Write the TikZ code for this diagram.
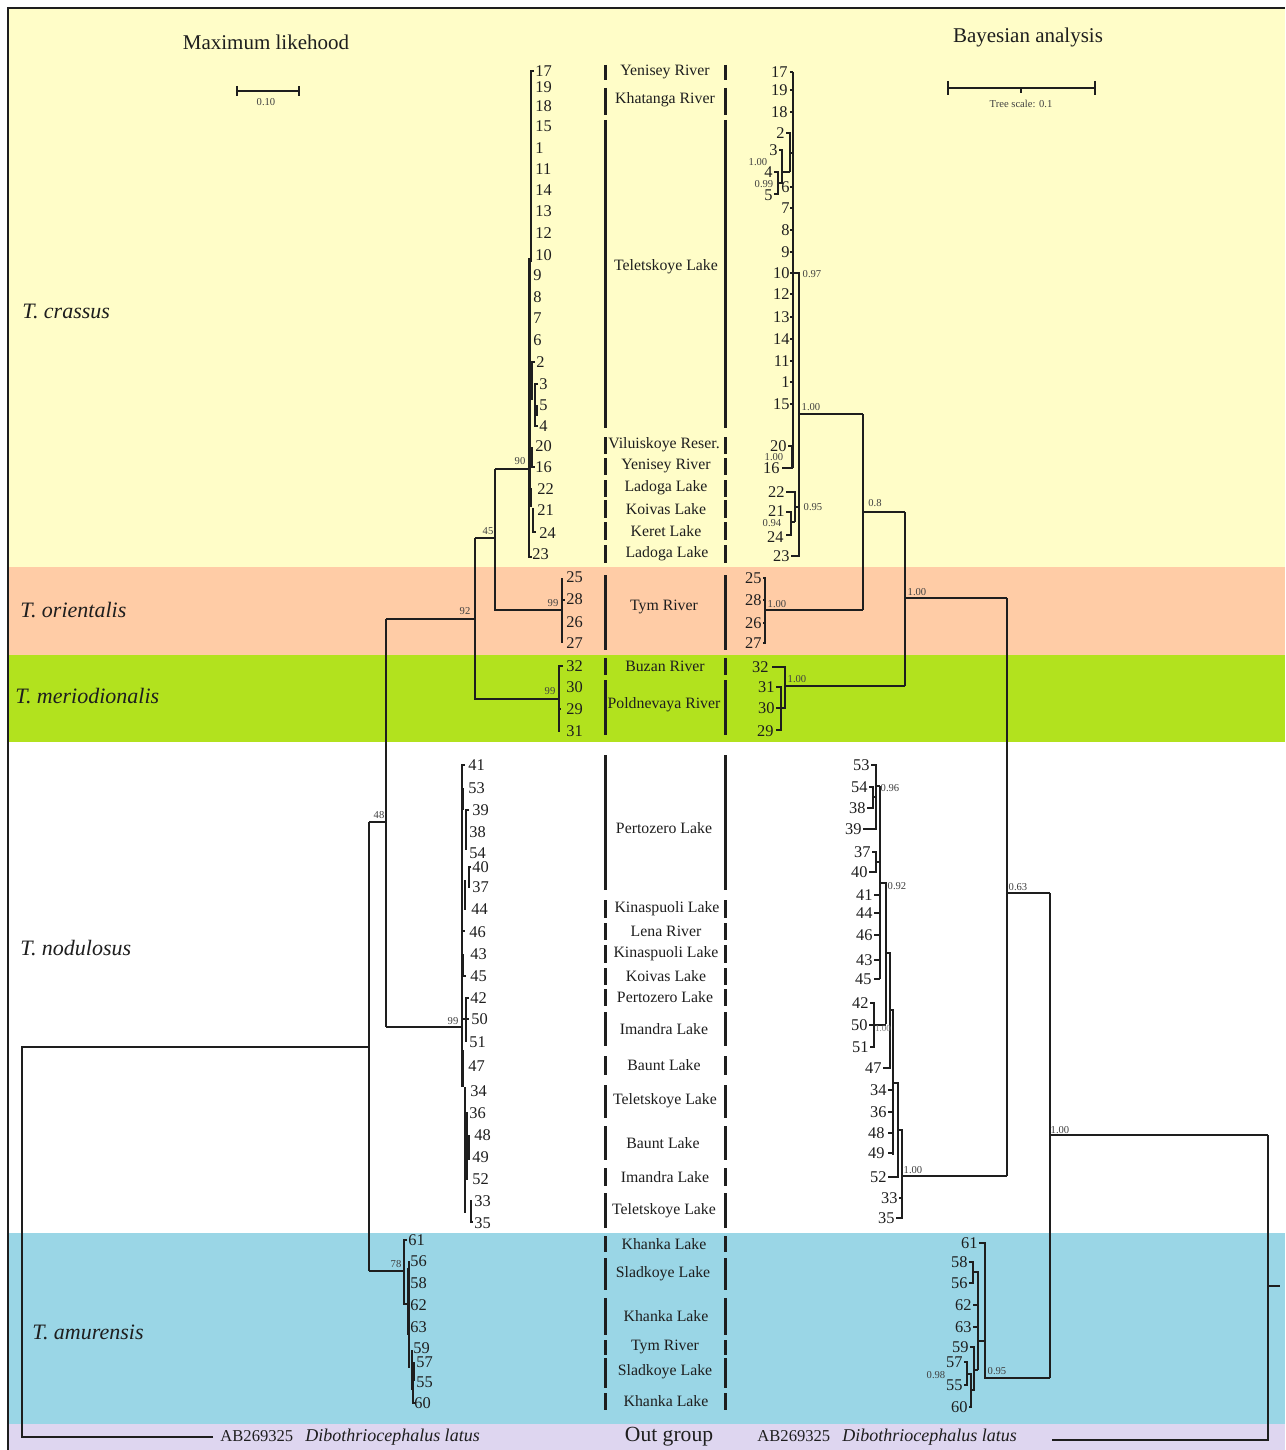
\documentclass[tikz,border=0pt]{standalone}
\usepackage{fontspec}
\setmainfont{Liberation Serif}
\definecolor{cyel}{RGB}{255,253,200}
\definecolor{cora}{RGB}{255,204,166}
\definecolor{cgrn}{RGB}{178,226,30}
\definecolor{cblu}{RGB}{154,214,230}
\definecolor{clav}{RGB}{222,214,240}
\definecolor{ink}{RGB}{30,30,30}
\newcommand\MLf[3]{\node[mll] (m#1) at (#2,#3) {#1};}
\newcommand\BAf[3]{\node[bal] (b#1) at (#2,#3) {#1};}
\begin{document}
\begin{tikzpicture}[x=0.5pt,y=-0.5pt,
 tl/.style={line width=0.65pt, draw=ink},
 tk/.style={line width=1.4pt, draw=ink},
 lbar/.style={line width=1.5pt, draw=ink},
 mll/.style={anchor=west, inner sep=0pt, text=ink, font=\normalfont\fontsize{8.2}{9}\selectfont},
 bal/.style={anchor=east, inner sep=0pt, text=ink, font=\normalfont\fontsize{8.2}{9}\selectfont},
 supp/.style={inner sep=0pt, font=\normalfont\fontsize{5.3}{6}\selectfont, text=black!75},
 locl/.style={inner sep=0pt, text=ink, font=\normalfont\fontsize{7.9}{9}\selectfont},
 spec/.style={anchor=west, inner sep=0pt, text=ink, font=\normalfont\fontsize{11}{12}\selectfont\itshape},
 ttl/.style={inner sep=0pt, text=ink, font=\normalfont\fontsize{10.5}{12}\selectfont}]
\useasboundingbox (0,0) rectangle (1285,1450);
% ---------- background bands
\fill[white] (0,0) rectangle (1285,1450);
\fill[cyel] (8,8) rectangle (1285,567);
\fill[cora] (8,567) rectangle (1285,655);
\fill[cgrn] (8,655) rectangle (1285,742);
\fill[white] (8,742) rectangle (1285,1233);
\fill[cblu] (8,1233) rectangle (1285,1424);
\fill[clav] (8,1424) rectangle (1285,1450);
\draw[line width=0.8pt, draw=ink] (8,1450)--(8,8)--(1285,8);
% ---------- titles and scale bars
\node[ttl] (tml) at (266,42) {Maximum likehood};
\node[ttl] (tba) at (1028,37) {Bayesian analysis};
\draw[tl] (237,91)--(299,91) (237,86)--(237,96) (299,86)--(299,96);
\node[supp] (sml) at (266,102) {0.10};
\draw[tl] (948,88)--(1095,88) (948,81)--(948,95) (1095,81)--(1095,95) (1021,88)--(1021,93);
\node[supp] (sba) at (1021,104) {Tree scale: 0.1};
% ---------- species
\node[spec] (sp1) at (22,311) {T. crassus};
\node[spec] (sp2) at (20,610) {T. orientalis};
\node[spec] (sp3) at (15,696) {T. meriodionalis};
\node[spec] (sp4) at (20,948) {T. nodulosus};
\node[spec] (sp5) at (32,1332) {T. amurensis};
% ---------- locations
\foreach \a/\b in {65/80, 88/115, 120/428, 437/454, 458/475, 480/497, 500/518, 522/540, 545/563, 575/650, 658/675, 680/735, 755/890, 900/918, 923/940, 945/963, 968/985, 989/1006, 1012/1046, 1056/1075, 1085/1118, 1126/1160, 1168/1186, 1193/1228, 1236/1252, 1258/1290, 1298/1335, 1340/1355, 1358/1388, 1393/1410}
  {\draw[lbar] (605,\a)--(605,\b) (725,\a)--(725,\b);}
\foreach \x/\y/\t [count=\i] in {665/72/Yenisey River, 665/100/Khatanga River, 666/267/Teletskoye Lake, 664/445/Viluiskoye Reser., 666/466/Yenisey River, 666/488/Ladoga Lake, 666/509/Koivas Lake, 666/531/Keret Lake, 667/554/Ladoga Lake, 664/607/Tym River, 665/666/Buzan River, 664/705/Poldnevaya River, 664/828/Pertozero Lake, 667/909/Kinaspuoli Lake, 666/931/Lena River, 666/954/Kinaspuoli Lake, 666/976/Koivas Lake, 665/997/Pertozero Lake, 664/1029/Imandra Lake, 664/1065/Baunt Lake, 665/1101/Teletskoye Lake, 663/1143/Baunt Lake, 665/1177/Imandra Lake, 664/1211/Teletskoye Lake, 664/1244/Khanka Lake, 663/1274/Sladkoye Lake, 666/1316/Khanka Lake, 665/1347/Tym River, 665/1372/Sladkoye Lake, 666/1401/Khanka Lake}
  {\node[locl] (loc\i) at (\x,\y) {\t};}
\node[inner sep=0pt, text=ink, font=\normalfont\fontsize{10.8}{12}\selectfont] (og) at (669,1437) {Out group};
% ---------- out group labels
\node[anchor=west, inner sep=0pt, text=ink, font=\normalfont\fontsize{8.3}{9}\selectfont] (oml) at (220,1437) {AB269325\hspace{6pt}\fontsize{9}{10}\selectfont\itshape Dibothriocephalus latus};
\node[anchor=west, inner sep=0pt, text=ink, font=\normalfont\fontsize{8.3}{9}\selectfont] (oba) at (757,1437) {AB269325\hspace{6pt}\fontsize{9}{10}\selectfont\itshape Dibothriocephalus latus};
% ================= ML tree
\draw[tl] (213,1437)--(22,1437)--(22,1047)--(369,1047);
\draw[tl] (369,822)--(369,1271);
\draw[tl] (369,822)--(386,822);
\node[supp] (s48) at (379,815) {48};
\draw[tl] (386,619)--(386,1027);
\draw[tl] (386,619)--(475,619);
\node[supp] (s92) at (465,611) {92};
\draw[tl] (386,1027)--(462,1027);
\node[supp] (s99c) at (453,1021) {99};
\draw[tl] (475,538)--(475,699)--(559,699);
\node[supp] (s99b) at (550,691) {99};
\draw[tl] (475,538)--(495,538);
\node[supp] (s45) at (488,531) {45};
\draw[tl] (495,469)--(495,610)--(562,610);
\node[supp] (s99a) at (553,603) {99};
\draw[tl] (495,469)--(529,469);
\node[supp] (s90) at (520,461) {90};
% crassus ML
\draw[tl] (534,71)--(531,71)--(531,262);
\draw[tl] (529,258)--(529,557)--(532,557);
\draw[tk] (530,262)--(530,505);
\draw[tl] (535,362)--(532,362)--(532,400);
\draw[tl] (538,384)--(535,384)--(535,426)--(538,426);
\draw[tl] (537,405)--(537,416);
\draw[tl] (532,447)--(532,467)--(535,467);
\draw[tk] (531,488)--(531,507);
\draw[tl] (533,508)--(533,532)--(536,532);
\foreach \n/\x/\y in {17/535/71, 19/535/87, 18/535/106, 15/535/126, 1/535/148, 11/535/169, 14/535/190, 13/535/211, 12/535/233, 10/535/255, 9/533/275, 8/533/297, 7/533/318, 6/533/340, 2/536/362, 3/539/384, 5/539/405, 4/539/426, 20/535/446, 16/535/467, 22/537/489, 21/537/510, 24/539/533, 23/532/554}
  {\MLf{\n}{\x}{\y}}
% orientalis ML
\draw[tl] (562,578)--(562,643);
\draw[tl] (562,600)--(565,600);
\foreach \n/\y in {25/577, 28/599, 26/622, 27/643} {\MLf{\n}{566}{\y}}
% meriodionalis ML
\draw[tl] (563,666)--(559,666)--(559,732);
\draw[tl] (559,709)--(561,709);
\foreach \n/\y in {32/666, 30/687, 29/709, 31/731} {\MLf{\n}{566}{\y}}
% nodulosus ML
\draw[tl] (465,765)--(462,765)--(462,1087);
\draw[tk] (463,788)--(463,810);
\draw[tl] (469,810)--(466,810)--(466,850);
\draw[tl] (471,867)--(469,867)--(469,888);
\draw[tk] (465,880)--(465,910);
\draw[tl] (462,931)--(465,931);
\draw[tl] (463,954)--(463,976)--(466,976);
\draw[tl] (469,998)--(466,998)--(466,1042);
\draw[tl] (462,1019)--(469,1019);
\draw[tk] (463,1050)--(463,1087);
\draw[tl] (465,1087)--(465,1213);
\draw[tk] (467,1112)--(467,1180);
\draw[tl] (469,1135)--(469,1160);
\draw[tl] (471,1200)--(471,1222)--(473,1222);
\foreach \n/\x/\y in {41/468/765, 53/468/788, 39/472/810, 38/469/832, 54/469/853, 40/472/867, 37/472/887, 44/471/909, 46/469/932, 43/470/954, 45/470/976, 42/470/998, 50/471/1019, 51/469/1042, 47/468/1066, 34/470/1091, 36/469/1113, 48/474/1135, 49/472/1157, 52/472/1179, 33/474/1201, 35/474/1223}
  {\MLf{\n}{\x}{\y}}
% amurensis ML
\draw[tl] (369,1271)--(404,1271);
\node[supp] (s78) at (396,1264) {78};
\draw[tl] (407,1240)--(404,1240)--(404,1304)--(409,1304);
\draw[tl] (409,1261)--(409,1368);
\draw[tk] (408,1268)--(408,1335);
\draw[tl] (412,1350)--(412,1390);
\draw[tl] (414,1362)--(414,1381);
\draw[tl] (413,1375)--(413,1403)--(415,1403);
\foreach \n/\x/\y in {61/408/1240, 56/410/1261, 58/410/1283, 62/410/1305, 63/410/1327, 59/413/1348, 57/416/1362, 55/416/1382, 60/414/1403}
  {\MLf{\n}{\x}{\y}}
% ================= Bayesian tree
% crassus
\draw[tl] (793,72)--(793,468);
\foreach \y in {72,90,112,187,208,230,252,273,294,317,339,361,382,404}
  {\draw[tl] (790,\y)--(793,\y);}
\draw[tl] (786,133)--(790,133)--(790,172);
\draw[tl] (790,153)--(793,153);
\draw[tl] (779,150)--(782,150)--(782,183)--(778,183);
\draw[tl] (782,172)--(790,172);
\draw[tl] (774,172)--(778,172)--(778,194)--(774,194);
\draw[tl] (793,273)--(799,273)--(799,556)--(791,556);
\draw[tl] (788,446)--(792,446)--(792,468)--(782,468);
\draw[tl] (786,492)--(795,492)--(795,522);
\draw[tl] (795,507)--(799,507);
\draw[tl] (786,512)--(791,512)--(791,535)--(786,535);
\draw[tl] (791,522)--(795,522);
\draw[tl] (799,414)--(863,414);
\foreach \n/\x/\y in {17/788/72, 19/788/90, 18/788/112, 2/785/133, 3/778/150, 4/773/172, 6/790/187, 5/773/195, 7/790/208, 8/790/230, 9/790/252, 10/790/273, 12/790/294, 13/790/317, 14/790/339, 11/790/361, 1/790/382, 15/790/404, 20/787/446, 16/780/468, 22/785/492, 21/785/511, 24/784/537, 23/790/556}
  {\BAf{\n}{\x}{\y}}
\node[supp] (p1) at (758,162) {1.00};
\node[supp] (p2) at (764,184) {0.99};
\node[supp] (p3) at (812,274) {0.97};
\node[supp] (p4) at (774,457) {1.00};
\node[supp] (p5) at (813,507) {0.95};
\node[supp] (p6) at (772,523) {0.94};
\node[supp] (p7) at (811,407) {1.00};
% orientalis
\draw[tl] (763,578)--(765,578)--(765,643)--(763,643);
\draw[tl] (763,600)--(765,600) (763,623)--(765,623);
\draw[tl] (765,610)--(863,610);
\foreach \n/\y in {25/578, 28/600, 26/623, 27/643} {\BAf{\n}{762}{\y}}
\node[supp] (p8) at (777,604) {1.00};
\draw[tl] (863,414)--(863,610);
\draw[tl] (863,512)--(905,512);
\node[supp] (p9) at (875,503) {0.8};
% meriodionalis
\draw[tl] (772,667)--(785,667)--(785,708)--(781,708);
\draw[tl] (776,687)--(781,687)--(781,730)--(776,730);
\draw[tl] (776,708)--(781,708);
\draw[tl] (785,686)--(905,686);
\foreach \n/\x/\y in {32/769/667, 31/775/687, 30/775/708, 29/774/731} {\BAf{\n}{\x}{\y}}
\node[supp] (p10) at (797,679) {1.00};
\draw[tl] (905,512)--(905,686);
\draw[tl] (905,598)--(1007,598);
\node[supp] (p11) at (917,592) {1.00};
\draw[tl] (1007,598)--(1007,1176);
\draw[tl] (1007,893)--(1050,893);
\node[supp] (p12) at (1018,887) {0.63};
% nodulosus
\draw[tl] (871,765)--(876,765)--(876,829)--(863,829);
\draw[tl] (869,787)--(873,787)--(873,808)--(867,808);
\draw[tl] (873,797)--(876,797);
\draw[tl] (876,786)--(880,786);
\draw[tl] (872,852)--(876,852)--(876,872)--(869,872);
\draw[tl] (876,862)--(880,862);
\draw[tl] (880,786)--(880,979);
\foreach \y in {895,913,935,960,979} {\draw[tl] (874,\y)--(880,\y);}
\draw[tl] (880,883)--(886,883)--(886,1024);
\draw[tl] (870,1003)--(874,1003)--(874,1047)--(870,1047);
\draw[tl] (869,1025)--(886,1025);
\draw[tl] (886,953)--(890,953)--(890,1068)--(883,1068);
\draw[tl] (890,1010)--(893,1010)--(893,1155);
\foreach \y in {1090,1112,1133,1153} {\draw[tl] (888,\y)--(893,\y);}
\draw[tl] (893,1083)--(898,1083)--(898,1177)--(888,1177);
\draw[tl] (898,1130)--(902,1130)--(902,1218)--(896,1218);
\draw[tl] (899,1198)--(902,1198);
\draw[tl] (902,1176)--(1007,1176);
\foreach \n/\x/\y in {53/870/765, 54/868/787, 38/866/808, 39/862/829, 37/871/852, 40/868/872, 41/873/895, 44/873/913, 46/873/935, 43/873/960, 45/872/979, 42/869/1003, 50/868/1025, 51/869/1047, 47/882/1068, 34/887/1090, 36/887/1112, 48/885/1133, 49/885/1153, 52/887/1177, 33/898/1198, 35/895/1218}
  {\BAf{\n}{\x}{\y}}
\node[supp] (p13) at (890,788) {0.96};
\node[supp] (p14) at (897,886) {0.92};
\node[supp,text=black!55,font=\normalfont\fontsize{4.5}{5}\selectfont] (p15) at (883,1029) {1.00};
\node[supp] (p16) at (913,1170) {1.00};
% amurensis
\draw[tl] (979,1243)--(985,1243)--(985,1378)--(1050,1378);
\draw[tl] (969,1262)--(973,1262)--(973,1283)--(969,1283);
\draw[tl] (973,1272)--(978,1272)--(978,1370);
\draw[tl] (973,1305)--(978,1305) (973,1327)--(978,1327);
\draw[tl] (978,1341)--(985,1341);
\draw[tl] (970,1347)--(974,1347)--(974,1390)--(970,1390);
\draw[tl] (974,1370)--(978,1370);
\draw[tl] (964,1362)--(967,1362)--(967,1385)--(964,1385);
\draw[tl] (967,1374)--(971,1374)--(971,1407)--(969,1407);
\foreach \n/\x/\y in {61/978/1243, 58/968/1262, 56/968/1283, 62/972/1305, 63/972/1327, 59/969/1347, 57/963/1362, 55/963/1385, 60/968/1407}
  {\BAf{\n}{\x}{\y}}
\node[supp] (p17) at (997,1371) {0.95};
\node[supp] (p18) at (936,1375) {0.98};
% root
\draw[tl] (1050,893)--(1050,1378);
\draw[tl] (1050,1135)--(1268,1135);
\node[supp] (p19) at (1060,1130) {1.00};
\draw[tl] (1268,1135)--(1268,1440)--(1052,1440);
\draw[tl] (1268,1286)--(1280,1286);
\end{tikzpicture}
\end{document}
